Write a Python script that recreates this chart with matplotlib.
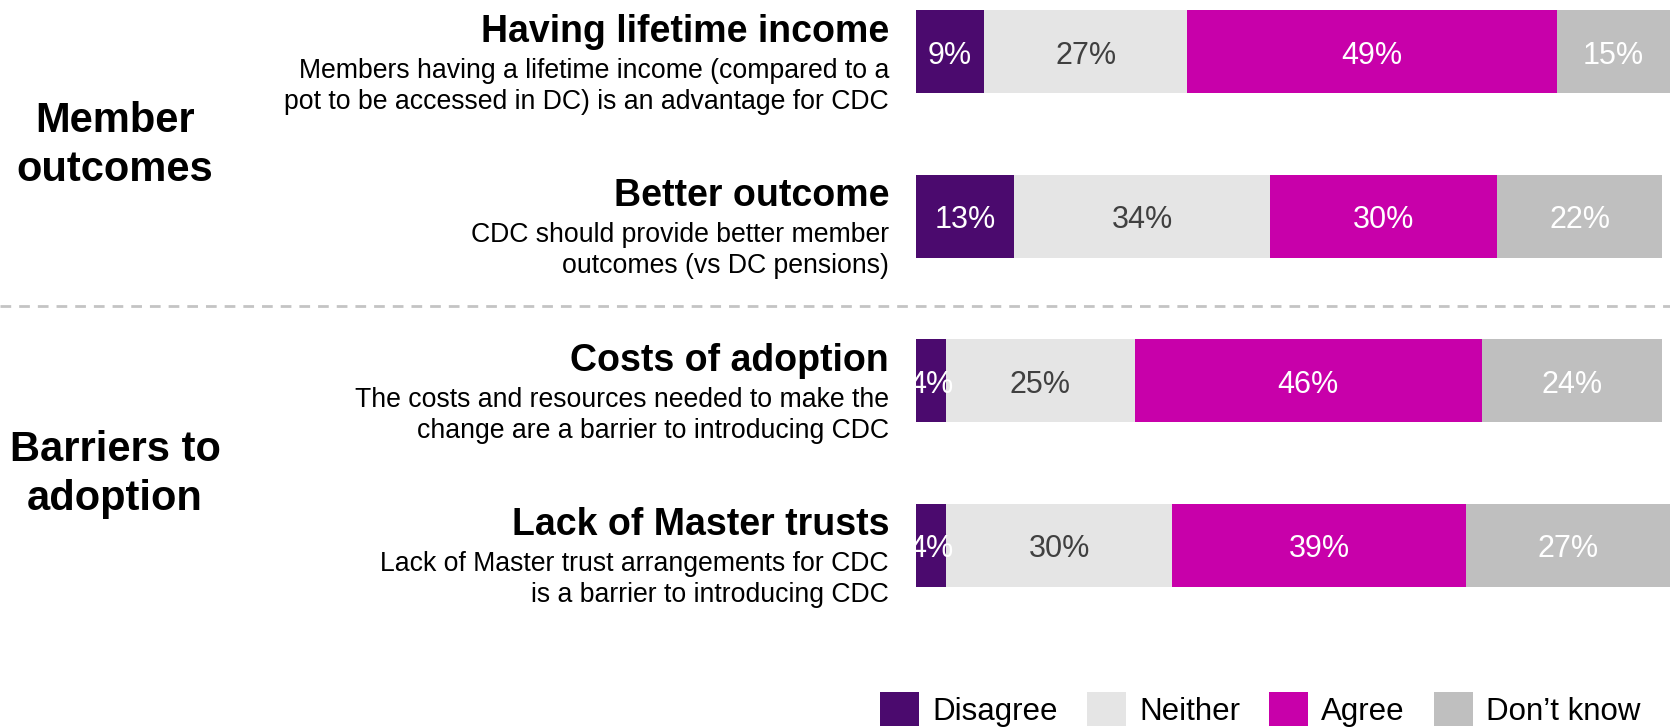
import matplotlib
matplotlib.use("Agg")
import matplotlib.pyplot as plt
from matplotlib.lines import Line2D
from matplotlib.transforms import blended_transform_factory

plt.rcParams["font.family"] = ["Liberation Sans", "DejaVu Sans"]
plt.rcParams["lines.scale_dashes"] = False

# ---- data -------------------------------------------------------------
titles = ["Having lifetime income", "Better outcome",
          "Costs of adoption", "Lack of Master trusts"]
descriptions = [
    ["Members having a lifetime income (compared to a",
     "pot to be accessed in DC) is an advantage for CDC"],
    ["CDC should provide better member",
     "outcomes (vs DC pensions)"],
    ["The costs and resources needed to make the",
     "change are a barrier to introducing CDC"],
    ["Lack of Master trust arrangements for CDC",
     "is a barrier to introducing CDC"],
]
groups = [["Member", "outcomes"], ["Barriers to", "adoption"]]
responses = ["Disagree", "Neither", "Agree", "Don\u2019t know"]
disagree = [9, 13, 4, 4]
neither = [27, 34, 25, 30]
agree = [49, 30, 46, 39]
dont_know = [15, 22, 24, 27]

# ---- styling ----------------------------------------------------------
seg_colors = ["#4B0A6E", "#C800AA", "#E5E5E5", "#BFBFBF"]
seg_colors = ["#4B0A6E", "#E5E5E5", "#C800AA", "#BFBFBF"]
label_colors = ["white", "#404040", "white", "white"]

W, H = 1670, 728
fig = plt.figure(figsize=(W / 100, H / 100), dpi=100)
ax_left = 916 / W
ax = fig.add_axes([ax_left, 0, 1 - ax_left, 1])

row_px, first_px = 164.5, 52.0
ax.set_xlim(0, 100)
ax.set_ylim((H - first_px) / row_px, -first_px / row_px)
ax.axis("off")

ypos = list(range(len(titles)))
series = [disagree, neither, agree, dont_know]
left = [0] * len(titles)
handles = []
for vals, col, lcol, name in zip(series, seg_colors, label_colors, responses):
    bars = ax.barh(ypos, vals, left=left, height=83 / row_px,
                   color=col, linewidth=0, label=name)
    handles.append(bars)
    for y, v, l in zip(ypos, vals, left):
        ax.annotate(f"{v}%", xy=(l + v / 2, y), xytext=(0, -12),
                    textcoords="offset pixels", ha="center", va="baseline",
                    fontsize=22, color=lcol)
    left = [a + b for a, b in zip(left, vals)]

# ---- row titles and descriptions --------------------------------------
text_x = 889 / W
for y, t, desc in zip(ypos, titles, descriptions):
    ax.annotate(t, xy=(text_x, y), xycoords=("figure fraction", "data"),
                xytext=(0, 10), textcoords="offset pixels",
                ha="right", va="baseline", fontsize=27, fontweight="bold",
                color="black")
    for k, line in enumerate(desc):
        ax.annotate(line, xy=(text_x, y), xycoords=("figure fraction", "data"),
                    xytext=(0, -26 - 31 * k), textcoords="offset pixels",
                    ha="right", va="baseline", fontsize=19.2, color="black")

# ---- group headings ---------------------------------------------------
group_x = 115 / W
for mid, lines in zip([0.5, 2.5], groups):
    for k, line in enumerate(lines):
        ax.annotate(line, xy=(group_x, mid), xycoords=("figure fraction", "data"),
                    xytext=(0, 2 - 49 * k), textcoords="offset pixels",
                    ha="center", va="baseline", fontsize=30,
                    fontweight="bold", color="black")

# ---- dashed separator between the two groups --------------------------
sep = Line2D([0, 1], [(306.5 - first_px) / row_px] * 2,
             transform=blended_transform_factory(fig.transFigure, ax.transData),
             color="#C4C4C4", linewidth=2.0, dashes=(7.7, 5.75))
fig.add_artist(sep)

# ---- legend -----------------------------------------------------------
fig.legend(handles, responses, loc="center left",
           bbox_to_anchor=(880 / W, 1 - 709.5 / H), ncol=4, frameon=False,
           fontsize=22.5, handlelength=1.25, handleheight=1.25,
           handletextpad=0.42, columnspacing=0.93,
           borderpad=0, borderaxespad=0)

fig.savefig("out.png", dpi=100)
